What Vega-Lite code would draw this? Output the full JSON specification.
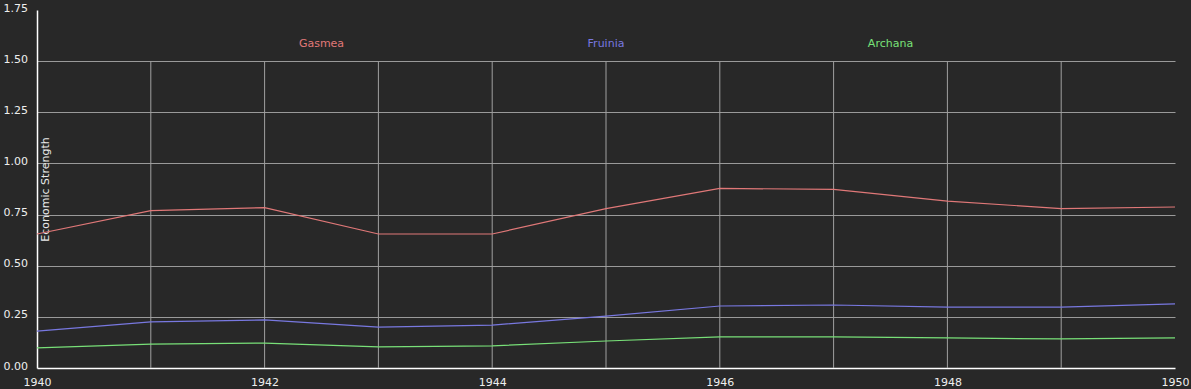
{
  "$schema": "https://vega.github.io/schema/vega-lite/v6.json",
  "autosize": "none",
  "width": 1138,
  "height": 358,
  "padding": {"left": 37, "top": 10, "right": 16, "bottom": 21},
  "background": "#282828",
  "config": {
    "view": {"stroke": null},
    "font": "DejaVu Sans"
  },
  "datasets": {
    "series": [
      {"year": 1940, "country": "Gasmea", "strength": 0.655},
      {"year": 1941, "country": "Gasmea", "strength": 0.769},
      {"year": 1942, "country": "Gasmea", "strength": 0.784},
      {"year": 1943, "country": "Gasmea", "strength": 0.655},
      {"year": 1944, "country": "Gasmea", "strength": 0.655},
      {"year": 1945, "country": "Gasmea", "strength": 0.779},
      {"year": 1946, "country": "Gasmea", "strength": 0.878},
      {"year": 1947, "country": "Gasmea", "strength": 0.873},
      {"year": 1948, "country": "Gasmea", "strength": 0.816},
      {"year": 1949, "country": "Gasmea", "strength": 0.779},
      {"year": 1950, "country": "Gasmea", "strength": 0.787},
      {"year": 1940, "country": "Fruinia", "strength": 0.180},
      {"year": 1941, "country": "Fruinia", "strength": 0.225},
      {"year": 1942, "country": "Fruinia", "strength": 0.235},
      {"year": 1943, "country": "Fruinia", "strength": 0.200},
      {"year": 1944, "country": "Fruinia", "strength": 0.210},
      {"year": 1945, "country": "Fruinia", "strength": 0.254},
      {"year": 1946, "country": "Fruinia", "strength": 0.303},
      {"year": 1947, "country": "Fruinia", "strength": 0.308},
      {"year": 1948, "country": "Fruinia", "strength": 0.298},
      {"year": 1949, "country": "Fruinia", "strength": 0.298},
      {"year": 1950, "country": "Fruinia", "strength": 0.313},
      {"year": 1940, "country": "Archana", "strength": 0.098},
      {"year": 1941, "country": "Archana", "strength": 0.117},
      {"year": 1942, "country": "Archana", "strength": 0.122},
      {"year": 1943, "country": "Archana", "strength": 0.103},
      {"year": 1944, "country": "Archana", "strength": 0.108},
      {"year": 1945, "country": "Archana", "strength": 0.132},
      {"year": 1946, "country": "Archana", "strength": 0.152},
      {"year": 1947, "country": "Archana", "strength": 0.152},
      {"year": 1948, "country": "Archana", "strength": 0.147},
      {"year": 1949, "country": "Archana", "strength": 0.142},
      {"year": 1950, "country": "Archana", "strength": 0.147}
    ]
  },
  "data": {"name": "series"},
  "layer": [
    {
      "transform": [{"filter": "datum.country == 'Gasmea' && datum.year > 1940 && datum.year < 1950"}],
      "mark": {"type": "rule", "color": "#a0a0a0", "strokeWidth": 1},
      "encoding": {
        "x": {"field": "year", "type": "quantitative"},
        "y": {"datum": 0},
        "y2": {"datum": 1.5}
      }
    },
    {
      "mark": {"type": "line", "strokeWidth": 1.2},
      "encoding": {
        "x": {
          "field": "year",
          "type": "quantitative",
          "scale": {"domain": [1940, 1950], "nice": false, "zero": false},
          "axis": {
            "values": [1940, 1942, 1944, 1946, 1948, 1950],
            "format": "d",
            "grid": false,
            "ticks": false,
            "labelPadding": 8,
            "labelColor": "#eeeeee",
            "labelFontSize": 11,
            "labelFont": "DejaVu Sans",
            "domainColor": "#ffffff",
            "domainWidth": 1.5,
            "title": null,
            "labelFlush": false
          }
        },
        "y": {
          "field": "strength",
          "type": "quantitative",
          "scale": {"domain": [0, 1.75], "nice": false},
          "axis": {
            "values": [0, 0.25, 0.5, 0.75, 1, 1.25, 1.5, 1.75],
            "format": ".2f",
            "grid": true,
            "gridColor": "#9a9a9a",
            "gridOpacity": {"condition": {"test": "datum.value >= 1.75 || datum.value <= 0", "value": 0}, "value": 1},
            "ticks": false,
            "labelAlign": "left",
            "labelPadding": 34,
            "labelOffset": -2,
            "labelColor": "#eeeeee",
            "labelFontSize": 11,
            "labelFont": "DejaVu Sans",
            "labelFlush": false,
            "domainColor": "#ffffff",
            "domainWidth": 1.5,
            "title": "Economic Strength",
            "titleColor": "#e8e8e8",
            "titleFontSize": 11,
            "titleFontWeight": "normal",
            "titleFont": "DejaVu Sans",
            "titleX": 8,
            "titleBaseline": "middle",
            "titleAngle": -90
          }
        },
        "color": {
          "field": "country",
          "type": "nominal",
          "scale": {"domain": ["Gasmea", "Fruinia", "Archana"], "range": ["#e07878", "#7878e0", "#78e078"]},
          "legend": null
        }
      }
    },
    {
      "data": {"values": [{"country": "Gasmea"}]},
      "mark": {"type": "text", "fontSize": 11, "font": "DejaVu Sans", "baseline": "middle", "align": "center"},
      "encoding": {
        "x": {"datum": 1942.5},
        "y": {"datum": 1.585},
        "text": {"field": "country"},
        "color": {"field": "country", "type": "nominal", "legend": null}
      }
    },
    {
      "data": {"values": [{"country": "Fruinia"}]},
      "mark": {"type": "text", "fontSize": 11, "font": "DejaVu Sans", "baseline": "middle", "align": "center"},
      "encoding": {
        "x": {"datum": 1945},
        "y": {"datum": 1.585},
        "text": {"field": "country"},
        "color": {"field": "country", "type": "nominal", "legend": null}
      }
    },
    {
      "data": {"values": [{"country": "Archana"}]},
      "mark": {"type": "text", "fontSize": 11, "font": "DejaVu Sans", "baseline": "middle", "align": "center"},
      "encoding": {
        "x": {"datum": 1947.5},
        "y": {"datum": 1.585},
        "text": {"field": "country"},
        "color": {"field": "country", "type": "nominal", "legend": null}
      }
    }
  ]
}
